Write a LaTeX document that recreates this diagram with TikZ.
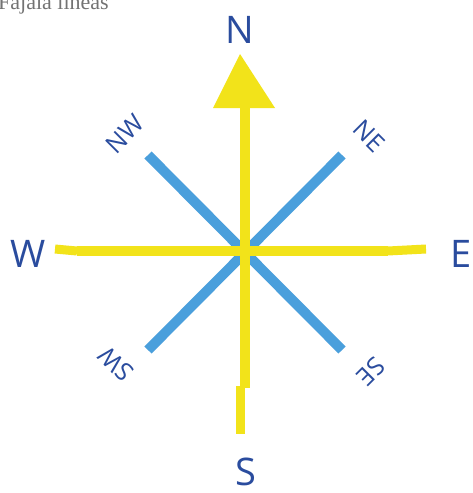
\documentclass[tikz,border=0pt]{standalone}
\usepackage{fontspec}
\setmainfont{Open Sans}
\newfontfamily\toptxt{Liberation Serif}
\definecolor{cyel}{HTML}{F2E31A}
\definecolor{cblue}{HTML}{4A9FDC}
\definecolor{ctxt}{HTML}{2A4C9E}
\begin{document}
\begin{tikzpicture}[x=1pt,y=-1pt,
  yl/.style={draw=cyel,line width=10pt},
  bl/.style={draw=cblue,line width=10pt},
  dirlab/.style={text=ctxt,font=\fontsize{38}{40}\selectfont,inner sep=0pt},
  sublab/.style={text=ctxt,font=\fontsize{25}{27}\selectfont,inner sep=0pt}]
\path[use as bounding box,fill=white] (0,0) rectangle (473,493);
\begin{scope}
\clip (0,0) rectangle (473,493);
\node[anchor=base west,inner sep=0pt,text=gray!90!black,font=\toptxt\fontsize{22}{24}\selectfont] (title) at (-2,9) {Fajala líneas};
\end{scope}
% coordinates
\coordinate (c) at (245,252);
\coordinate (nw) at (148,155);
\coordinate (se) at (342,350);
\coordinate (ne) at (342,155);
\coordinate (sw) at (148,350);
% blue diagonals
\draw[bl] (nw) -- (se);
\draw[bl] (ne) -- (sw);
% yellow lines
\coordinate (wl) at (77,251);
\coordinate (el) at (388,251);
\coordinate (wstub) at (55,249);
\coordinate (estub) at (426,249);
\coordinate (top) at (245,105);
\coordinate (bot) at (245,388);
\coordinate (bstub) at (240,434);
\draw[yl] (wl) -- (el);
\draw[yl,line width=9pt] (wstub) -- (wl);
\draw[yl,line width=9pt] (el) -- (estub);
\draw[yl] (top) -- (bot);
\draw[yl,line width=9pt] (240,386) -- (bstub);
% arrow head
\coordinate (apex) at (240,54);
\coordinate (bl1) at (213,108);
\coordinate (br1) at (275,108);
\fill[cyel] (apex) -- (br1) -- (bl1) -- cycle;
% labels
\node[dirlab] (N) at (240,30) {N};
\node[dirlab] (S) at (246,472) {S};
\node[dirlab] (W) at (28,254) {W};
\node[dirlab] (E) at (461,254) {E};
\node[sublab,rotate=45] (NWl) at (125,134) {NW};
\node[sublab,rotate=-45] (NEl) at (369,136) {NE};
\node[sublab,rotate=135] (SWl) at (116,364) {SW};
\node[sublab,rotate=-135] (SEl) at (371,372) {SE};
\end{tikzpicture}
\end{document}
